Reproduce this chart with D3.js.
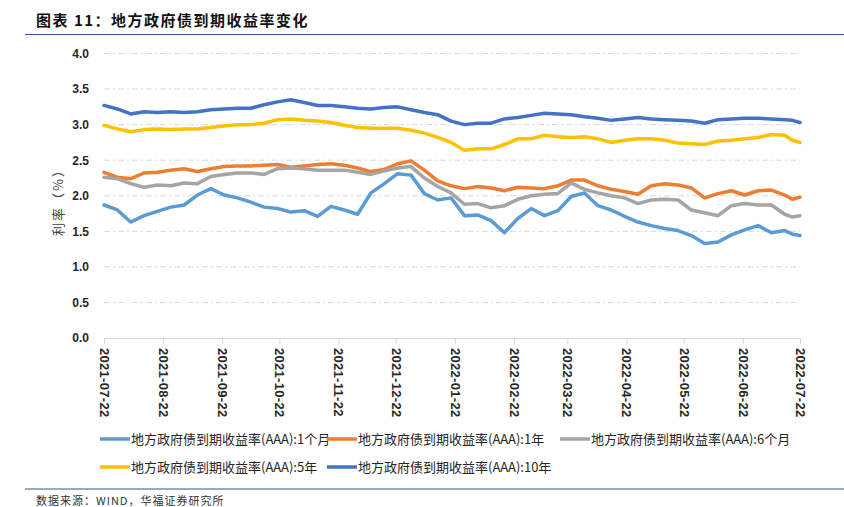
<!DOCTYPE html>
<html>
<head>
<meta charset="utf-8">
<script src="https://cdn.jsdelivr.net/npm/d3@7"></script>
<style>
  html, body { margin: 0; padding: 0; background: #fff; }
  svg { display: block; }
</style>
</head>
<body>
<div id="chart"></div>
<script>
// weekly readings of the yield curves (%)
const dates = [
  '2021-07-22', '2021-07-29', '2021-08-05', '2021-08-12', '2021-08-19', '2021-08-26',
  '2021-09-02', '2021-09-09', '2021-09-16', '2021-09-23', '2021-09-30', '2021-10-07',
  '2021-10-14', '2021-10-21', '2021-10-28', '2021-11-04', '2021-11-11', '2021-11-18',
  '2021-11-25', '2021-12-02', '2021-12-09', '2021-12-16', '2021-12-23', '2021-12-30',
  '2022-01-06', '2022-01-13', '2022-01-20', '2022-01-27', '2022-02-03', '2022-02-10',
  '2022-02-17', '2022-02-24', '2022-03-03', '2022-03-10', '2022-03-17', '2022-03-24',
  '2022-03-31', '2022-04-07', '2022-04-14', '2022-04-21', '2022-04-28', '2022-05-05',
  '2022-05-12', '2022-05-19', '2022-05-26', '2022-06-02', '2022-06-09', '2022-06-16',
  '2022-06-23', '2022-06-30', '2022-07-07', '2022-07-14', '2022-07-18', '2022-07-22'
];
const m1 = [
  1.87, 1.80, 1.63, 1.72, 1.78, 1.84, 1.87, 2.01, 2.10, 2.01, 1.97, 1.91,
  1.84, 1.82, 1.77, 1.79, 1.71, 1.85, 1.80, 1.74, 2.04, 2.17, 2.31, 2.29,
  2.03, 1.94, 1.97, 1.72, 1.73, 1.65, 1.48, 1.68, 1.82, 1.72, 1.79, 1.99,
  2.04, 1.86, 1.80, 1.71, 1.63, 1.58, 1.54, 1.51, 1.44, 1.33, 1.35, 1.45,
  1.52, 1.58, 1.48, 1.51, 1.46, 1.44
];
const y1 = [
  2.33, 2.26, 2.24, 2.32, 2.33, 2.36, 2.38, 2.34, 2.38, 2.41, 2.42, 2.42,
  2.43, 2.44, 2.40, 2.42, 2.44, 2.45, 2.43, 2.39, 2.34, 2.37, 2.45, 2.49,
  2.36, 2.21, 2.14, 2.10, 2.13, 2.11, 2.07, 2.12, 2.11, 2.10, 2.14, 2.22,
  2.22, 2.14, 2.09, 2.06, 2.02, 2.14, 2.17, 2.15, 2.11, 1.97, 2.03, 2.07,
  2.01, 2.07, 2.08, 2.01, 1.95, 1.98
];
const m6 = [
  2.26, 2.24, 2.17, 2.12, 2.15, 2.14, 2.18, 2.17, 2.27, 2.30, 2.32, 2.32,
  2.30, 2.38, 2.39, 2.38, 2.36, 2.36, 2.36, 2.33, 2.30, 2.35, 2.39, 2.41,
  2.25, 2.13, 2.04, 1.88, 1.89, 1.83, 1.86, 1.95, 2.00, 2.02, 2.03, 2.18,
  2.09, 2.04, 2.00, 1.97, 1.89, 1.94, 1.95, 1.94, 1.80, 1.76, 1.72, 1.86,
  1.89, 1.87, 1.87, 1.74, 1.70, 1.72
];
const y5 = [
  2.99, 2.94, 2.90, 2.93, 2.94, 2.93, 2.94, 2.94, 2.96, 2.98, 3.00, 3.00,
  3.02, 3.07, 3.08, 3.06, 3.05, 3.03, 2.99, 2.96, 2.95, 2.95, 2.95, 2.92,
  2.88, 2.82, 2.75, 2.64, 2.66, 2.66, 2.72, 2.80, 2.80, 2.85, 2.83, 2.82,
  2.83, 2.80, 2.75, 2.78, 2.80, 2.80, 2.78, 2.74, 2.73, 2.72, 2.77, 2.78,
  2.80, 2.82, 2.86, 2.85, 2.78, 2.75
];
const y10 = [
  3.27, 3.22, 3.15, 3.18, 3.17, 3.18, 3.17, 3.18, 3.21, 3.22, 3.23, 3.23,
  3.28, 3.32, 3.35, 3.31, 3.27, 3.27, 3.25, 3.23, 3.22, 3.24, 3.25, 3.21,
  3.17, 3.14, 3.05, 3.00, 3.02, 3.02, 3.08, 3.10, 3.13, 3.16, 3.15, 3.14,
  3.11, 3.09, 3.06, 3.08, 3.10, 3.08, 3.07, 3.06, 3.05, 3.02, 3.07, 3.08,
  3.09, 3.09, 3.08, 3.07, 3.06, 3.03
];
const tickLabels = [
  '2021-07-22', '2021-08-22', '2021-09-22', '2021-10-22', '2021-11-22', '2021-12-22',
  '2022-01-22', '2022-02-22', '2022-03-22', '2022-04-22', '2022-05-22', '2022-06-22', '2022-07-22'
];
const yTicks = [0, 0.5, 1.0, 1.5, 2.0, 2.5, 3.0, 3.5, 4.0];
const seriesNames = [
  '地方政府债到期收益率(AAA):1个月',
  '地方政府债到期收益率(AAA):1年',
  '地方政府债到期收益率(AAA):6个月',
  '地方政府债到期收益率(AAA):5年',
  '地方政府债到期收益率(AAA):10年'
];
const seriesValues = [m1, y1, m6, y5, y10];
const seriesColors = ['#5B9BD5', '#ED7D31', '#A5A5A5', '#FFC000', '#4472C4'];

const W = 844, H = 507;
const CJK = '"Noto Sans CJK SC", "Noto Sans", sans-serif';
const LAT = '"Liberation Sans", Arial, sans-serif';
const parse = d3.timeParse('%Y-%m-%d');

const svg = d3.select('#chart').append('svg')
    .attr('width', W)
    .attr('height', H);

// title + rules
svg.append('text')
    .attr('x', 36).attr('y', 26)
    .attr('font-family', CJK)
    .attr('font-size', 15)
    .attr('font-weight', 'bold')
    .attr('letter-spacing', 1.5)
    .attr('fill', '#111')
    .text('图表 11：地方政府债到期收益率变化');
svg.append('line')
    .attr('x1', 25).attr('x2', W).attr('y1', 34.5).attr('y2', 34.5)
    .attr('stroke', '#2F5597').attr('stroke-width', 1.2);
svg.append('line')
    .attr('x1', 25).attr('x2', W).attr('y1', 489).attr('y2', 489)
    .attr('stroke', '#2F5597').attr('stroke-width', 1.2);
svg.append('text')
    .attr('x', 36).attr('y', 505)
    .attr('font-family', CJK)
    .attr('font-size', 11)
    .attr('letter-spacing', 1)
    .attr('fill', '#333')
    .text('数据来源：WIND，华福证券研究所');

// scales
const x = d3.scaleTime()
    .domain([parse(tickLabels[0]), parse(tickLabels[tickLabels.length - 1])])
    .range([104, 800]);
const y = d3.scaleLinear()
    .domain([0, 4])
    .range([338, 53.5]);

// gridlines
svg.append('g')
    .selectAll('line')
    .data(yTicks.filter(d => d > 0))
    .join('line')
    .attr('x1', x.range()[0]).attr('x2', x.range()[1])
    .attr('y1', d => y(d)).attr('y2', d => y(d))
    .attr('stroke', '#D9D9D9')
    .attr('stroke-width', 1)
    .attr('stroke-dasharray', '6,3,2,3');

// y axis labels
const yAxis = svg.append('g')
    .attr('transform', `translate(${x.range()[0]},0)`)
    .call(d3.axisLeft(y).tickValues(yTicks).tickFormat(d3.format('.1f')).tickSize(0).tickPadding(15));
yAxis.select('.domain').remove();
yAxis.selectAll('text')
    .attr('font-family', LAT)
    .attr('font-size', 12)
    .attr('font-weight', 'bold')
    .attr('fill', '#262626');

svg.append('text')
    .attr('transform', 'translate(63,199) rotate(-90)')
    .attr('text-anchor', 'middle')
    .attr('font-family', CJK)
    .attr('font-size', 13)
    .attr('letter-spacing', 2)
    .attr('fill', '#404040')
    .text('利率（%）');

// x axis
const xAxis = svg.append('g')
    .attr('transform', `translate(0,${y(0)})`)
    .call(d3.axisBottom(x).tickValues(tickLabels.map(parse)).tickFormat(d3.timeFormat('%Y-%m-%d')).tickSize(6).tickSizeOuter(0));
xAxis.select('.domain').attr('stroke', '#D9D9D9');
xAxis.selectAll('.tick line').attr('stroke', '#D9D9D9');
xAxis.selectAll('text')
    .attr('font-family', LAT)
    .attr('font-size', 13)
    .attr('font-weight', 'bold')
    .attr('letter-spacing', 0.3)
    .attr('fill', '#262626')
    .attr('text-anchor', 'start')
    .attr('dy', '0.35em')
    .attr('transform', 'translate(0,4) rotate(90)')
    .attr('x', 6)
    .attr('y', 0);

// series
const line = d3.line()
    .x((d, i) => x(parse(dates[i])))
    .y(d => y(d));
svg.append('g')
    .selectAll('path')
    .data(seriesValues)
    .join('path')
    .attr('d', d => line(d))
    .attr('fill', 'none')
    .attr('stroke', (d, i) => seriesColors[i])
    .attr('stroke-width', 3.5)
    .attr('stroke-linejoin', 'round')
    .attr('stroke-linecap', 'round');

// legend: excel-like column layout
const legendCols = [100, 327, 560];
const legendRows = [439, 467];
const legend = svg.append('g')
    .selectAll('g')
    .data(seriesNames)
    .join('g')
    .attr('transform', (d, i) => `translate(${legendCols[i % 3]},${legendRows[Math.floor(i / 3)]})`);
legend.append('line')
    .attr('x1', 0).attr('x2', 30)
    .attr('stroke', (d, i) => seriesColors[i])
    .attr('stroke-width', 3.5);
legend.append('text')
    .attr('x', 31)
    .attr('dy', '0.36em')
    .attr('font-family', CJK)
    .attr('font-size', 13)
    .attr('fill', '#262626')
    .text(d => d);
</script>
</body>
</html>
